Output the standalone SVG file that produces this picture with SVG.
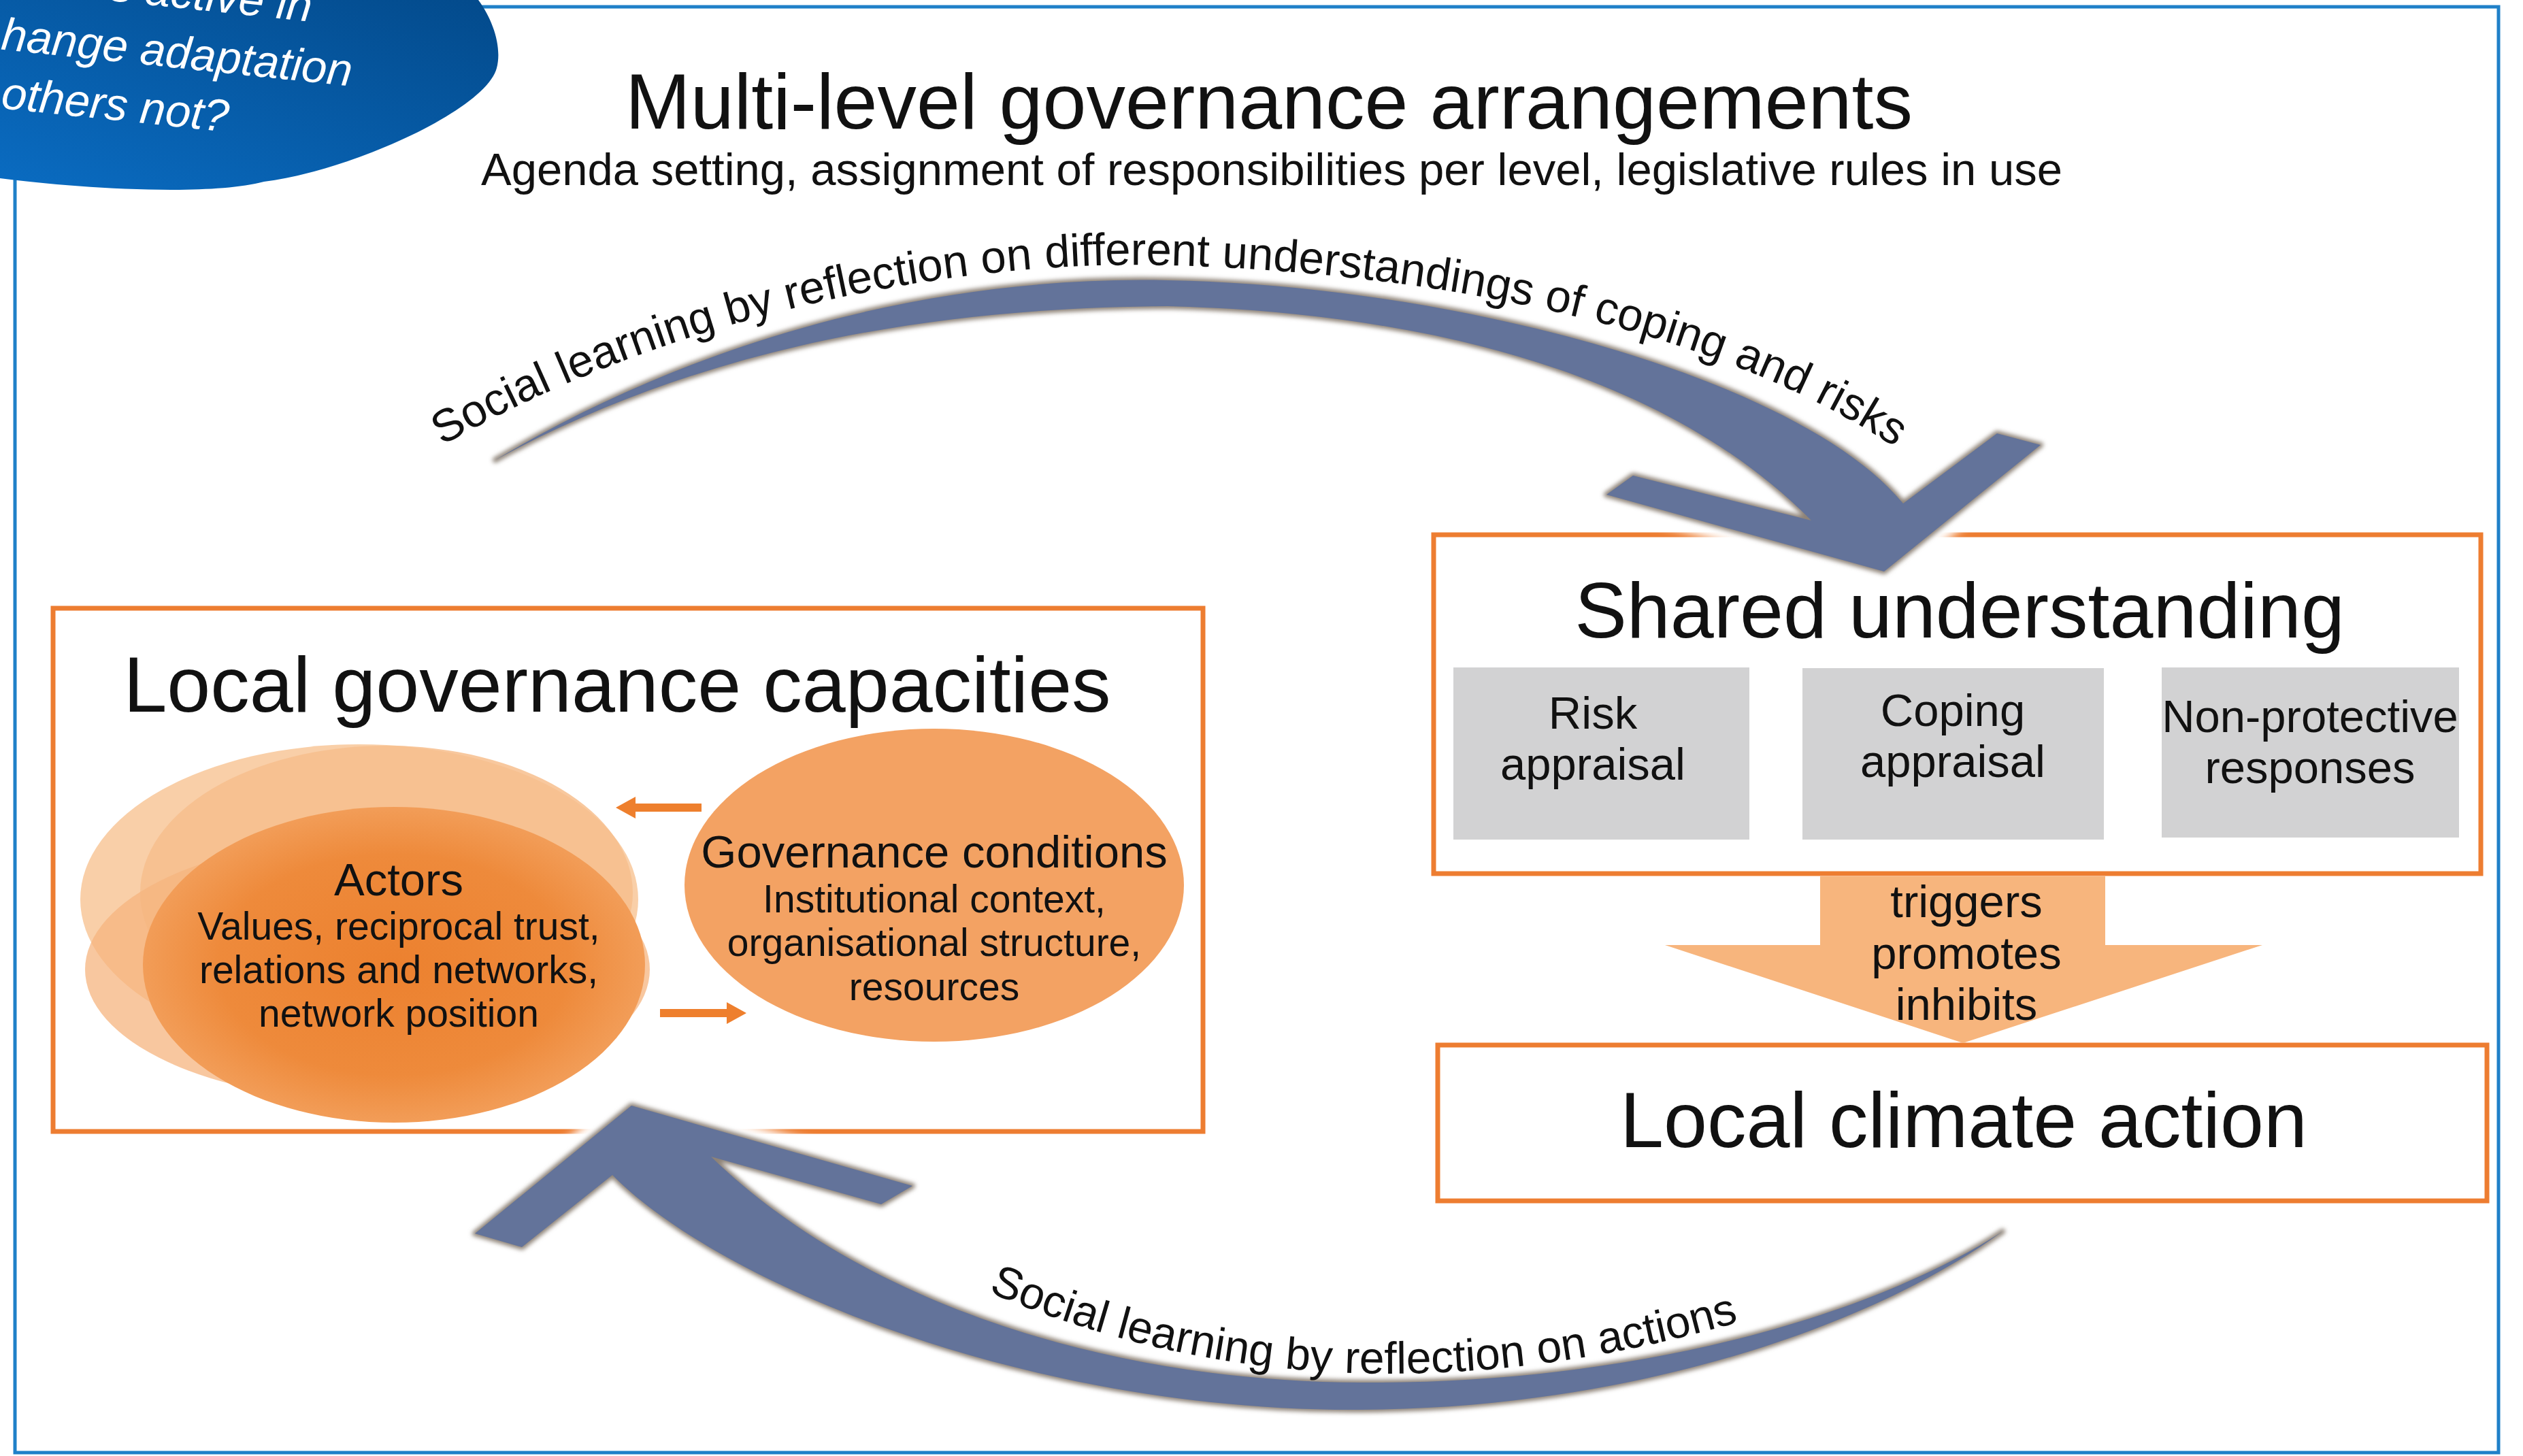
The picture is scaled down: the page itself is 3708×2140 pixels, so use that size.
<svg xmlns="http://www.w3.org/2000/svg" width="3708" height="2140" viewBox="0 0 3708 2140">
  <style>
    .txt { font-family: "Liberation Sans", Arial, sans-serif; fill: #111; }
    .h1 { font-size: 115px; }
    .sub { font-size: 67px; }
    .m { font-size: 67px; }
    .s { font-size: 57px; }
    .arc { font-size: 66px; }
    .arc-wide { font-size: 67px; }
    .q { font-family: "Liberation Sans", Arial, sans-serif; font-size: 67px; font-style: italic; fill: #fff; }
    .box { fill: none; stroke: #ED7D31; stroke-width: 7; }
    .grey { fill: #D2D2D3; }
    .halo { fill: #fff; stroke: #fff; stroke-width: 44; stroke-linejoin: round; }
    .rim { fill: #8E8378; stroke: #8E8378; stroke-width: 8; stroke-linejoin: round; }
    .band { fill: #63739A; }
    .small-arrow { fill: #EE7F2D; }
  </style>
  <defs>
    <linearGradient id="blobFill" x1="0" y1="1" x2="1" y2="0">
      <stop offset="0" stop-color="#0A6CC2"/>
      <stop offset="1" stop-color="#034A8B"/>
    </linearGradient>
    <radialGradient id="actorFill" cx="0.5" cy="0.5" r="0.5">
      <stop offset="0" stop-color="#EC812F"/>
      <stop offset="0.7" stop-color="#EE8A3B"/>
      <stop offset="1" stop-color="#F29D58"/>
    </radialGradient>
    <filter id="soft" x="-5%" y="-10%" width="110%" height="120%">
      <feGaussianBlur stdDeviation="3"/>
    </filter>
    <filter id="glow" x="-5%" y="-10%" width="110%" height="120%">
      <feGaussianBlur stdDeviation="7"/>
    </filter>
    <!-- curved loop arrow shapes -->
    <path id="loopTop" d="M 728,676 C 1050,485 1400,405 1716,412 C 2150,420 2650,560 2797,740 L 2935,637 L 2999,654 L 2769,840 L 2361,727 L 2400,699 L 2662,765 C 2450,550 2100,460 1716,450 C 1400,452 1050,500 728,676 Z"/>
    <path id="loopBottom" d="M 2943,1810 C 2750,1950 2400,2070 2000,2072 C 1500,2075 1050,1880 900,1727 L 767,1833 L 698,1813 L 928,1625 L 1341,1743 L 1295,1770 L 1045,1700 C 1250,1900 1600,2030 2000,2032 C 2400,2035 2750,1935 2943,1810 Z"/>
    <!-- baselines for the curved labels -->
    <path id="arcTopText" d="M 650,655 C 980,465 1400,380 1720,390 C 2100,400 2570,480 2850,705" fill="none"/>
    <path id="arcBottomText" d="M 1410,1880 Q 1950,2130 2600,1930" fill="none"/>
  </defs>

  <rect width="3708" height="2140" fill="#fff"/>

  <!-- outer frame -->
  <rect id="frame" x="22" y="10" width="3650" height="2125" fill="none" stroke="#1F80C8" stroke-width="5"/>

  <!-- question bubble, top left -->
  <g id="node-question">
    <path d="M 0,0 H 703 C 725,30 738,70 730,100 C 715,160 520,250 388,267 C 300,290 100,275 0,262 Z" fill="url(#blobFill)"/>
    <g transform="rotate(6)">
      <text class="q" x="122" y="-16">es active in</text>
      <text class="q" x="8" y="72">hange adaptation</text>
      <text class="q" x="17" y="158">others not?</text>
    </g>
  </g>

  <!-- heading -->
  <g id="node-multilevel">
    <text class="txt h1" x="1865" y="189" text-anchor="middle">Multi-level governance arrangements</text>
    <text class="txt sub" x="1869" y="272" text-anchor="middle">Agenda setting, assignment of responsibilities per level, legislative rules in use</text>
  </g>

  <!-- local governance capacities -->
  <g id="node-local-governance">
    <rect class="box" x="78" y="894" width="1690" height="769"/>
    <text class="txt h1" x="907" y="1046" text-anchor="middle">Local governance capacities</text>
  </g>

  <g id="node-actors">
    <ellipse cx="528" cy="1322" rx="410" ry="228" fill="#F9CFA8"/>
    <ellipse cx="568" cy="1312" rx="362" ry="216" fill="#F7BE8D" opacity="0.85"/>
    <ellipse cx="540" cy="1425" rx="415" ry="192" fill="#F6B47F" opacity="0.75"/>
    <ellipse cx="579" cy="1418" rx="369" ry="232" fill="url(#actorFill)"/>
    <text class="txt m" x="586" y="1316" text-anchor="middle">Actors</text>
    <text class="txt s" x="586" y="1381" text-anchor="middle">Values, reciprocal trust,</text>
    <text class="txt s" x="586" y="1445" text-anchor="middle">relations and networks,</text>
    <text class="txt s" x="586" y="1509" text-anchor="middle">network position</text>
  </g>

  <g id="node-governance-conditions">
    <ellipse cx="1373" cy="1301" rx="367" ry="230" fill="#F3A263"/>
    <text class="txt m" x="1373" y="1275" text-anchor="middle">Governance conditions</text>
    <text class="txt s" x="1373" y="1341" text-anchor="middle">Institutional context,</text>
    <text class="txt s" x="1373" y="1405" text-anchor="middle">organisational structure,</text>
    <text class="txt s" x="1373" y="1470" text-anchor="middle">resources</text>
  </g>

  <!-- shared understanding -->
  <g id="node-shared-understanding">
    <rect class="box" x="2107" y="786" width="1539" height="498"/>
    <text class="txt h1" x="2880" y="937" text-anchor="middle">Shared understanding</text>
  </g>
  <g id="node-risk-appraisal">
    <rect class="grey" x="2136" y="981" width="435" height="253"/>
    <text class="txt m" x="2341" y="1071" text-anchor="middle">Risk</text>
    <text class="txt m" x="2341" y="1146" text-anchor="middle">appraisal</text>
  </g>
  <g id="node-coping-appraisal">
    <rect class="grey" x="2649" y="982" width="443" height="252"/>
    <text class="txt m" x="2870" y="1067" text-anchor="middle">Coping</text>
    <text class="txt m" x="2870" y="1142" text-anchor="middle">appraisal</text>
  </g>
  <g id="node-non-protective">
    <rect class="grey" x="3177" y="981" width="437" height="250"/>
    <text class="txt m" x="3395" y="1076" text-anchor="middle">Non-protective</text>
    <text class="txt m" x="3395" y="1151" text-anchor="middle">responses</text>
  </g>

  <!-- local climate action -->
  <g id="node-climate-action">
    <rect class="box" x="2113" y="1536" width="1542" height="229"/>
    <text class="txt h1" x="2886" y="1686" text-anchor="middle">Local climate action</text>
  </g>

  <!-- connectors -->
  <g id="connectors">
    <g id="edge-triggers">
      <path d="M 2675,1288 H 3094 V 1389 H 3325 L 2885,1533 L 2447,1389 H 2675 Z" fill="#F7B57D"/>
      <text class="txt m" x="2890" y="1348" text-anchor="middle">triggers</text>
      <text class="txt m" x="2890" y="1424" text-anchor="middle">promotes</text>
      <text class="txt m" x="2890" y="1499" text-anchor="middle">inhibits</text>
    </g>

    <g id="edge-conditions-to-actors">
      <path class="small-arrow" d="M 1031,1181 H 934 V 1171 L 905,1187 L 934,1203 V 1193 H 1031 Z"/>
    </g>
    <g id="edge-actors-to-conditions">
      <path class="small-arrow" d="M 970,1483 H 1068 V 1473 L 1097,1489 L 1068,1505 V 1495 H 970 Z"/>
    </g>

    <g id="edge-learning-understanding">
      <use href="#loopTop" class="halo" filter="url(#glow)"/>
      <use href="#loopTop" class="rim" filter="url(#soft)"/>
      <use href="#loopTop" class="band"/>
      <text class="txt arc-wide"><textPath href="#arcTopText">Social learning by reflection on different understandings of coping and risks</textPath></text>
    </g>

    <g id="edge-learning-actions">
      <use href="#loopBottom" class="halo" filter="url(#glow)"/>
      <use href="#loopBottom" class="rim" filter="url(#soft)"/>
      <use href="#loopBottom" class="band"/>
      <text class="txt arc" text-anchor="middle"><textPath href="#arcBottomText" startOffset="50%">Social learning by reflection on actions</textPath></text>
    </g>
  </g>
</svg>
